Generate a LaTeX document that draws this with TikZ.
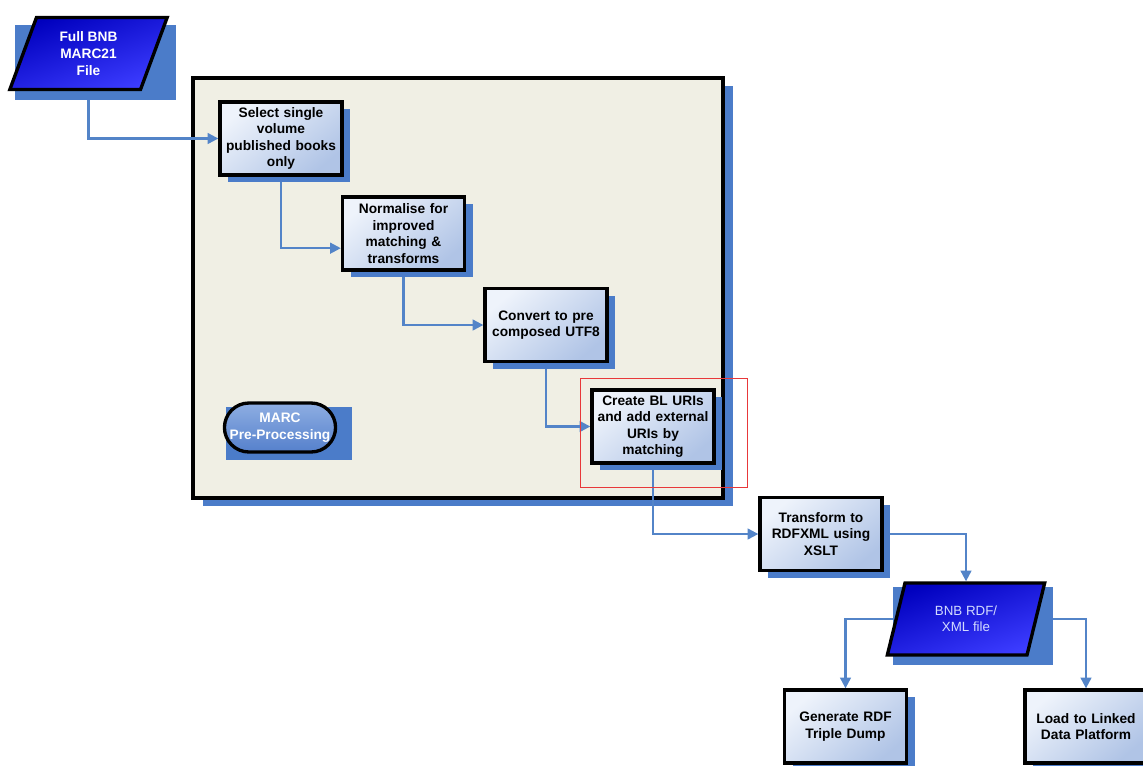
\documentclass[tikz,border=0pt]{standalone}
\usepackage{fontspec}
\setsansfont{Liberation Sans}
\usepackage{xcolor}
\definecolor{shadeblue}{HTML}{4B7CC9}
\definecolor{wireblue}{HTML}{5384C8}
\definecolor{boardcol}{HTML}{F0EFE4}
\definecolor{boxtop}{HTML}{EEF3FB}
\definecolor{boxbot}{HTML}{B0C4E6}
\definecolor{filedark}{HTML}{0000BE}
\definecolor{filelight}{HTML}{3C3CFF}
\definecolor{pilltop}{HTML}{8EAEE2}
\definecolor{pillbot}{HTML}{5580CC}
\definecolor{filetext}{HTML}{D2DAFF}
\definecolor{marker}{HTML}{E8383A}
\usepackage{tikz}
\usetikzlibrary{arrows.meta, shapes.geometric, shapes.misc, shadows, backgrounds, calc}
\pgfdeclarelayer{board}
\pgfsetlayers{board,background,main}

\begin{document}
\begin{tikzpicture}[x=0.75pt, y=-0.75pt, >={Triangle[width=8pt,length=8pt]},
  boxshadow/.style={drop shadow={shadow xshift=6pt, shadow yshift=-5.5pt,
        fill=shadeblue, opacity=1}},
  stepbox/.style={draw=black, line width=2.5pt, boxshadow,
        top color=boxtop, bottom color=boxbot, shading angle=40,
        minimum width=91.5pt, minimum height=54.75pt,
        text width=89pt, align=center, inner sep=1pt,
        font=\sffamily\bfseries\fontsize{10.3}{12.4}\selectfont},
  datafile/.style={trapezium, trapezium left angle=63, trapezium right angle=117,
        trapezium stretches body, draw=black, line width=2.5pt,
        left color=filedark, right color=filelight, shading angle=20,
        minimum width=118pt, minimum height=54pt, align=center,
        font=\sffamily\fontsize{10}{12}\selectfont},
  flowline/.style={->, draw=wireblue, line width=1.6pt}]

  \useasboundingbox (0,0) rectangle (1143,765);
  \clip (0,0) rectangle (1143,765);

  \begin{pgfonlayer}{board}
    \node[draw=black, line width=2.6pt, fill=boardcol,
          minimum width=397.5pt, minimum height=315pt,
          drop shadow={shadow xshift=7.5pt, shadow yshift=-6pt,
                       fill=shadeblue, opacity=1}] (prep) at (458,288) {};
  \end{pgfonlayer}

  \node[datafile, font=\sffamily\bfseries\fontsize{10.3}{12.5}\selectfont,
        text=white] (full) at (88.5,53.5) {Full BNB\\MARC21\\File};

  \node[stepbox] (sel)    at (281,138.5) {Select single\\volume\\published books\\only};
  \node[stepbox] (norm)   at (403.5,233.5) {Normalise for\\improved\\matching \&\\transforms};
  \node[stepbox] (conv)   at (546,325) {Convert to pre\\composed UTF8};
  \node[stepbox] (create) at (653,426.5) {Create BL URIs\\and add external\\URIs by\\matching};

  \node[rounded rectangle, draw=black, line width=2.5pt,
        top color=pilltop, bottom color=pillbot,
        minimum width=90pt, minimum height=36.75pt, align=center, text=white,
        font=\sffamily\bfseries\fontsize{10.3}{12.5}\selectfont] (marc)
        at (280,427.5) {MARC\\Pre-Processing};

  \node[stepbox] (xslt) at (821,534) {Transform to\\RDFXML using\\XSLT};

  \node[datafile, text=filetext] (rdf) at (966,619) {BNB RDF/\\XML file};

  \node[stepbox] (dump) at (845.5,726.5) {Generate RDF\\Triple Dump};
  \node[stepbox] (load) at (1086,726.5) {Load to Linked\\Data Platform};

  \draw[marker, line width=0.8pt] ($(create.north west)+(-10,-10)$)
        rectangle ($(create.south east)+(32,23)$);

  \begin{scope}[on background layer]
    \draw[flowline] (full) |- (sel);
    \draw[flowline] (sel) |- ([yshift=-11pt]norm.west);
    \draw[flowline] (norm) |- (conv);
    \draw[flowline] (conv) |- (create);
    \draw[flowline] (create) |- (xslt);
    \draw[flowline] (xslt) -| (rdf);
    \draw[flowline] (rdf) -| (dump);
    \draw[flowline] (rdf) -| (load);

    % flat shadows behind the files and the label
    \fill[shadeblue] ($(full.center)+(-73.5,-28.5)$) rectangle ($(full.center)+(87.5,46.5)$);
    \fill[shadeblue] ($(rdf.center)+(-73,-32)$) rectangle ($(rdf.center)+(87,46)$);
    \fill[shadeblue] ($(marc.center)+(-54,-20.5)$) rectangle ($(marc.center)+(72,32.5)$);
  \end{scope}
\end{tikzpicture}
\end{document}
